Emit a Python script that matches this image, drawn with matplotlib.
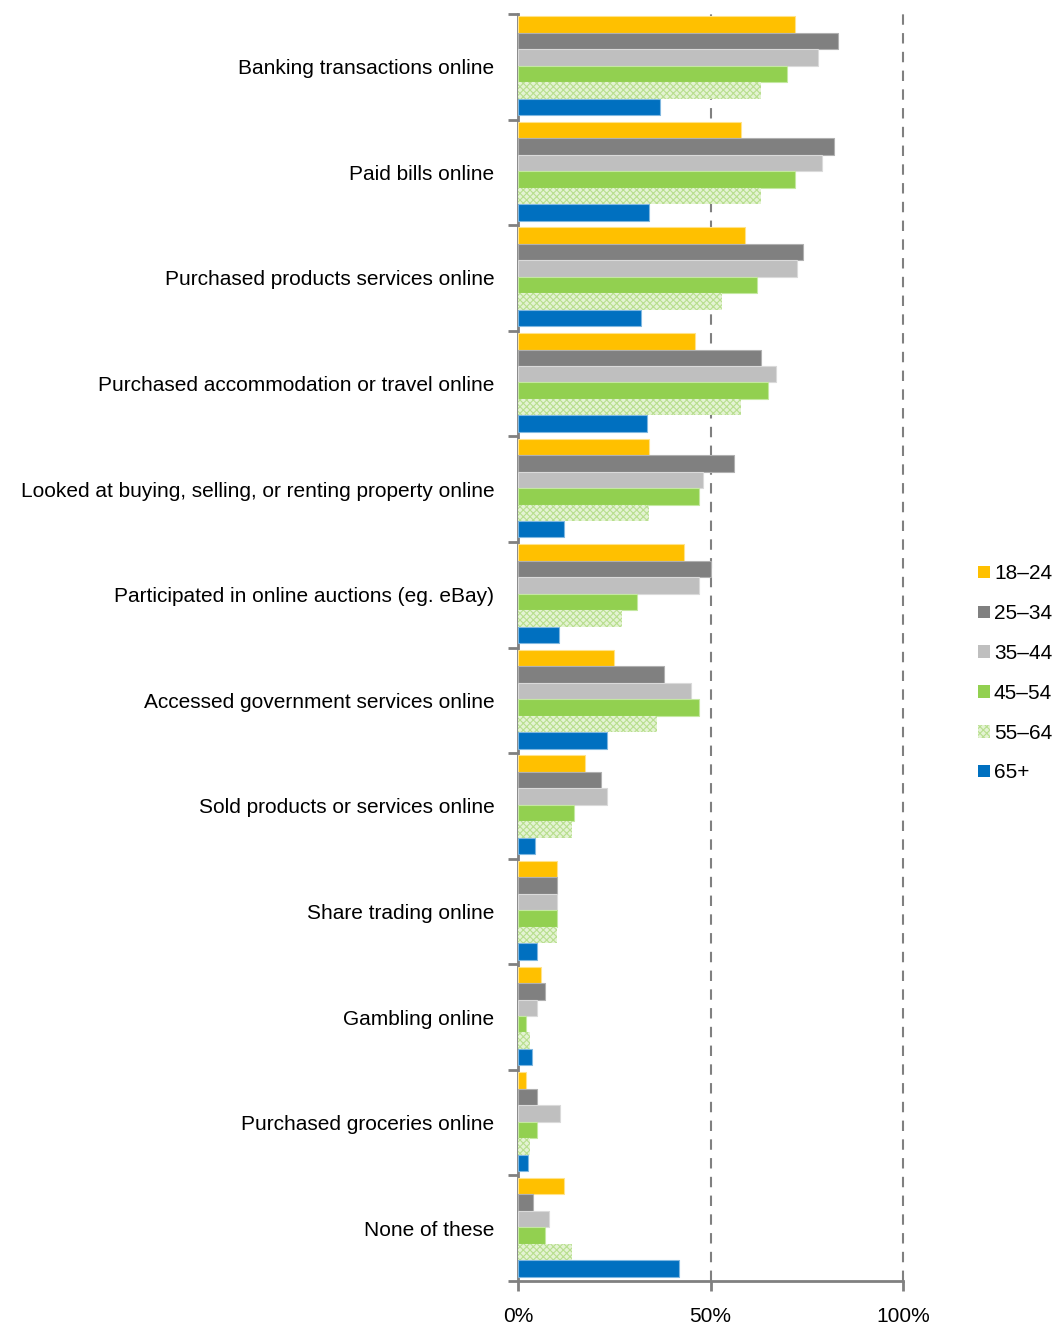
import matplotlib.pyplot as plt
from matplotlib.patches import Patch
import numpy as np

plt.rcParams['font.family'] = ['Liberation Sans', 'DejaVu Sans']
plt.rcParams['hatch.linewidth'] = 0.8

categories = ['Banking transactions online', 'Paid bills online',
              'Purchased products services online',
              'Purchased accommodation or travel online',
              'Looked at buying, selling, or renting property online',
              'Participated in online auctions (eg. eBay)',
              'Accessed government services online',
              'Sold products or services online', 'Share trading online',
              'Gambling online', 'Purchased groceries online', 'None of these']
age_groups = ['18–24', '25–34', '35–44', '45–54', '55–64', '65+']

v_18_24 = [72, 58, 59, 46, 34, 43, 25, 17.5, 10, 6, 2, 12]
v_25_34 = [83, 82, 74, 63, 56, 50, 38, 21.5, 10, 7, 5, 4]
v_35_44 = [78, 79, 72.5, 67, 48, 47, 45, 23, 10, 5, 11, 8]
v_45_54 = [70, 72, 62, 65, 47, 31, 47, 14.5, 10, 2, 5, 7]
v_55_64 = [63, 63, 53, 58, 34, 27, 36, 14, 10, 3, 3, 14]
v_65 = [37, 34, 32, 33.5, 12, 10.6, 23, 4.5, 5, 3.7, 2.5, 41.7]
series = [v_18_24, v_25_34, v_35_44, v_45_54, v_55_64, v_65]

colors = ['#FFC000', '#808080', '#BFBFBF', '#92D050', '#E4F3D3', '#0070C0']
hatches = [None, None, None, None, 'xxxxx', None]
edges = ['#FFE38A', '#B0B0B0', '#DADADA', '#C4E8A0', '#B8DF8E', '#7FB7E0']

fig = plt.figure(figsize=(10.53, 13.29), dpi=100)
ax = fig.add_axes([518 / 1053, 1 - 1281 / 1329, (903 - 518) / 1053, (1281 - 14) / 1329])

y = np.arange(len(categories))
bh = 0.156
for k, vals in enumerate(series):
    off = -0.40 + k * bh
    if hatches[k]:
        ax.barh(y + off, vals, height=bh, color=colors[k], edgecolor=edges[k],
                hatch=hatches[k], linewidth=0, zorder=3)
    else:
        ax.barh(y + off, vals, height=bh, color=colors[k], edgecolor=edges[k],
                linewidth=0.8, zorder=3)

ax.set_xlim(0, 100)
ax.set_ylim(len(categories) - 0.5, -0.5)

for xv in [50, 100]:
    ax.axvline(xv, color='#808080', linestyle=(0, (5, 4)), linewidth=1.5, zorder=1, clip_on=False)

for s in ['top', 'right']:
    ax.spines[s].set_visible(False)
for s in ['left', 'bottom']:
    ax.spines[s].set_color('#808080')
    ax.spines[s].set_linewidth(2)

ax.set_xticks([0, 50, 100])
ax.set_xticklabels(['0%', '50%', '100%'], fontsize=15)
ax.tick_params(axis='x', direction='out', length=7, width=2, color='#808080', pad=12)

ax.set_yticks(np.arange(-0.5, len(categories), 1.0))
ax.set_yticklabels([])
ax.tick_params(axis='y', which='major', direction='out', length=7, width=2, color='#808080')
ax.set_yticks(y, minor=True)
ax.set_yticklabels(categories, minor=True, fontsize=15)
ax.tick_params(axis='y', which='minor', length=0, pad=17)

handles = [Patch(facecolor=colors[k], edgecolor=edges[k] if hatches[k] else colors[k],
                 hatch=hatches[k], linewidth=0) for k in range(6)]
fig.legend(handles, age_groups, loc='upper left', bbox_to_anchor=(970 / 1053, 1 - 556 / 1329),
           frameon=False, fontsize=15, handlelength=0.55, handleheight=0.55,
           handletextpad=0.2, labelspacing=1.0, borderaxespad=0)

fig.savefig('out.png', dpi=100)
